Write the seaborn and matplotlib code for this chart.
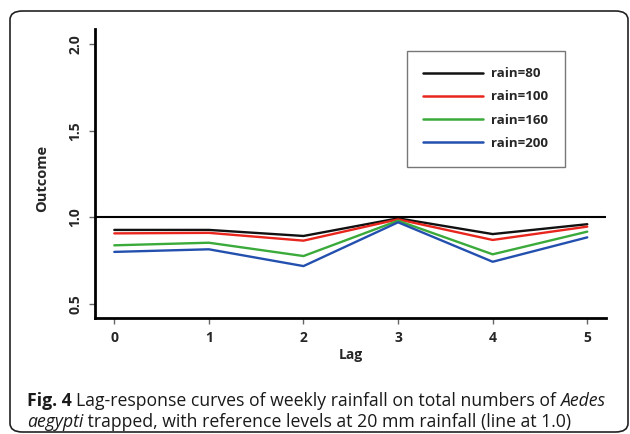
import matplotlib
matplotlib.use("Agg")
import matplotlib.pyplot as plt
import seaborn as sns
import pandas as pd
from matplotlib.patches import FancyBboxPatch
from matplotlib.lines import Line2D

lags = [0, 1, 2, 3, 4, 5]
rain80 = [0.927, 0.927, 0.892, 0.994, 0.903, 0.960]
rain100 = [0.907, 0.910, 0.865, 0.988, 0.869, 0.946]
rain160 = [0.838, 0.853, 0.776, 0.980, 0.786, 0.917]
rain200 = [0.800, 0.815, 0.718, 0.971, 0.743, 0.884]
labels = ["rain=80", "rain=100", "rain=160", "rain=200"]
colors = ["#111111", "#e8261d", "#3aaa3a", "#2350ae"]
yticks = [0.5, 1.0, 1.5, 2.0]
ref_level = 1.0
caption_line1 = [("Fig. 4 ", "bold", "normal"),
                 ("Lag-response curves of weekly rainfall on total numbers of ", "normal", "normal"),
                 ("Aedes", "normal", "italic")]
caption_line2 = [("aegypti", "normal", "italic"),
                 (" trapped, with reference levels at 20 mm rainfall (line at 1.0)", "normal", "normal")]

rows = []
for lab, vals in zip(labels, [rain80, rain100, rain160, rain200]):
    for l, v in zip(lags, vals):
        rows.append({"Lag": l, "Outcome": v, "rain": lab})
df = pd.DataFrame(rows)

sns.set_style("white")
plt.rcParams["font.family"] = ["Open Sans", "DejaVu Sans"]

fig = plt.figure(figsize=(6.3, 4.34), dpi=100)
ax = fig.add_axes([95 / 630, 1 - 318 / 434, 511 / 630, 289 / 434])

sns.lineplot(data=df, x="Lag", y="Outcome", hue="rain", hue_order=labels,
             palette=colors, linewidth=1.7, ax=ax, legend=False)
ax.axhline(ref_level, color="black", linewidth=1.5)

ax.set_xlim(-0.204, 5.198)
ax.set_ylim(0.418, 2.088)
ax.set_xticks(lags)
ax.set_yticks(yticks)
ax.set_xticklabels([str(l) for l in lags], fontweight="bold", fontsize=10)
ax.set_yticklabels([f"{t:.1f}" for t in yticks], fontweight="bold", fontsize=10,
                   rotation=90, va="center")
ax.tick_params(axis="both", direction="out", length=4, width=1, color="#666666",
               bottom=True, left=True, pad=5)
for s in ["top", "right"]:
    ax.spines[s].set_visible(False)
for s in ["left", "bottom"]:
    ax.spines[s].set_color("black")
    ax.spines[s].set_linewidth(2.0)
ax.set_xlabel("Lag", fontweight="bold", fontsize=10)
ax.xaxis.set_label_coords(0.5, -(355 - 318) / 289, transform=ax.transAxes)
ax.xaxis.label.set_va("center")
ax.set_ylabel("Outcome", fontweight="bold", fontsize=10.5)
ax.yaxis.set_label_coords(-(95 - 41.7) / 511, 0.5 + (173.5 - 178) / 289)
ax.yaxis.label.set_va("center")

handles = [Line2D([], [], color=c, linewidth=1.8) for c in colors]
leg = ax.legend(handles, labels, loc="upper left",
                bbox_to_anchor=(406.7 / 630, 1 - 50.7 / 434),
                bbox_transform=fig.transFigure, frameon=True, fancybox=False,
                prop={"weight": "bold", "size": 9.5}, handlelength=4.5,
                handletextpad=0.65, labelspacing=0.78, borderpad=1.25,
                borderaxespad=0)
leg.get_frame().set_edgecolor("#555555")
leg.get_frame().set_linewidth(1.0)

# outer rounded frame
x0, y0, x1, y1 = 10, 11, 628, 432
frame = FancyBboxPatch((x0 / 630, 1 - y1 / 434), (x1 - x0) / 630, (y1 - y0) / 434,
                       boxstyle="round,pad=0,rounding_size=0.02",
                       transform=fig.transFigure, fill=False,
                       edgecolor="#222222", linewidth=1.2, clip_on=False)
fig.patches.append(frame)

renderer = fig.canvas.get_renderer()


def put_line(parts, x_px, y_px, size=12.7):
    x = x_px
    for txt, weight, style in parts:
        t = fig.text(x / 630, 1 - y_px / 434, txt, fontweight=weight,
                     fontstyle=style, fontsize=size, va="center", ha="left",
                     color="#1a1a1a")
        bb = t.get_window_extent(renderer=renderer)
        x += bb.width


put_line(caption_line1, 27, 401)
put_line(caption_line2, 27, 422)

fig.savefig("out.png", dpi=100)
